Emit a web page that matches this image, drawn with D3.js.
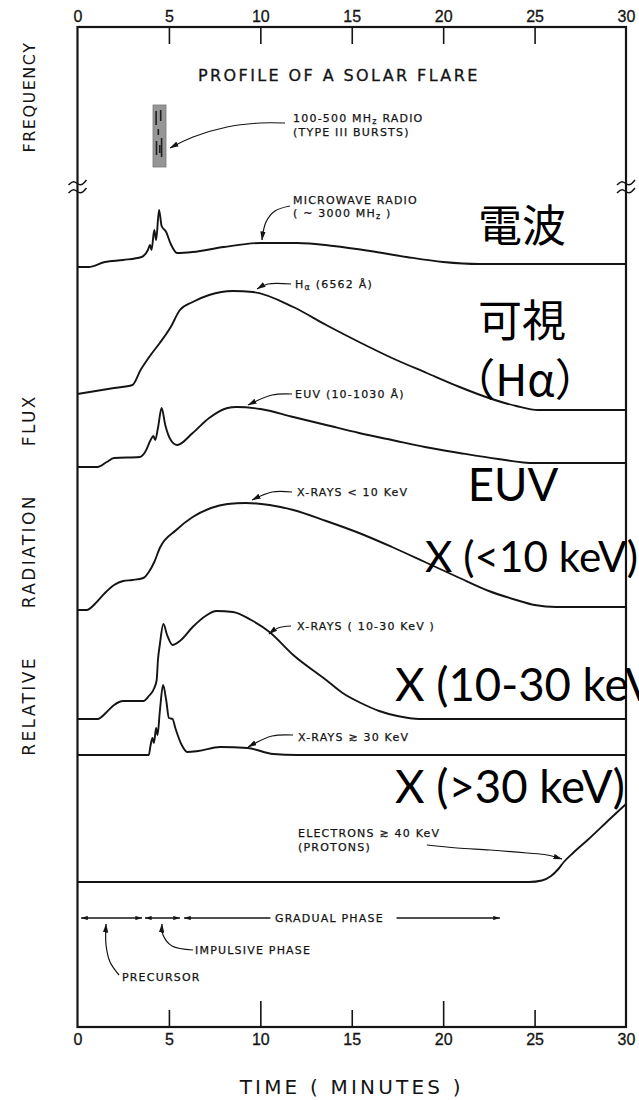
<!DOCTYPE html>
<html>
<head>
<meta charset="utf-8">
<script src="https://cdn.jsdelivr.net/npm/d3@7/dist/d3.min.js"></script>
<style>
  body { margin: 0; background: #fff; }
  svg { display: block; }
</style>
</head>
<body>
<svg id="chart" width="639" height="1100"></svg>
<script>
// ---- data: time in minutes, relative flux in stacked chart units (0 = bottom, 100 = top) ----
const minuteTicks = [0, 5, 10, 15, 20, 25, 30];

const microwaveRadio = [
  [0, 76.0], [0.6, 76.0], [1.5, 76.5], [2.5, 76.7], [3.5, 77.0], [3.85, 77.7], [3.97, 78.2],
  [4.05, 77.7], [4.2, 79.7], [4.3, 78.7], [4.46, 81.7], [4.6, 80.1], [4.85, 79.5], [5.1, 78.3],
  [5.45, 77.4], [6.3, 77.5], [8, 78.0], [10, 78.4], [12, 78.4], [14, 78.1], [16, 77.6],
  [18, 77.0], [20, 76.5], [22, 76.3], [30, 76.3]
];
const hAlpha = [
  [0, 63.3], [1, 63.6], [2, 63.9], [3.0, 64.2], [3.45, 65.7], [4.0, 67.2], [4.5, 68.4],
  [5.1, 70.0], [5.6, 71.7], [6.3, 72.5], [7.2, 73.2], [8.5, 73.6], [9.6, 73.5], [11.8, 72.0],
  [13.6, 70.2], [15.4, 68.5], [17.2, 66.9], [19.1, 65.4], [20.9, 64.0], [22.5, 62.9],
  [24, 62.1], [25.2, 61.7], [30, 61.7]
];
const euv = [
  [0, 56.0], [1.1, 56.0], [1.6, 56.5], [2.0, 56.9], [3.4, 57.0], [3.7, 57.5], [4.0, 58.7],
  [4.15, 59.1], [4.25, 58.7], [4.4, 59.9], [4.6, 61.9], [4.8, 60.2], [5.1, 58.7], [5.45, 58.2],
  [6.3, 59.4], [7.2, 60.9], [8.2, 61.9], [8.7, 62.0], [10, 61.8], [11.8, 61.0], [13.6, 60.2],
  [15.4, 59.4], [17.2, 58.7], [19, 58.0], [20.9, 57.4], [23, 56.8], [25, 56.4], [30, 56.4]
];
const xraySoft = [
  [0, 41.7], [0.5, 41.7], [1.0, 42.4], [1.5, 43.4], [2.0, 44.2], [2.5, 44.6], [3.0, 44.7],
  [3.6, 44.9], [3.9, 45.5], [4.2, 46.5], [4.5, 47.9], [5.4, 49.7], [6.3, 51.0], [7.3, 51.9],
  [8.2, 52.3], [9.2, 52.4], [10.5, 52.2], [11.8, 51.7], [13.6, 50.6], [15.4, 49.4],
  [17.2, 48.0], [19, 46.5], [20.9, 44.9], [22.5, 43.6], [24, 42.7], [25, 42.2], [26.2, 42.0],
  [30, 42.0]
];
const xrayMid = [
  [0, 30.8], [1.1, 30.8], [1.6, 31.5], [2.0, 32.2], [2.5, 32.6], [3.6, 32.6], [3.9, 33.1],
  [4.2, 33.9], [4.33, 34.7], [4.4, 36.7], [4.5, 38.2], [4.7, 40.3], [4.9, 39.2], [5.2, 38.2],
  [5.6, 38.6], [6.3, 40.0], [7.0, 41.1], [7.6, 41.6], [8.5, 41.5], [9.5, 40.7], [10.5, 39.5],
  [11.8, 37.2], [13.6, 34.7], [14.5, 33.4], [15.5, 32.4], [16.5, 31.6], [17.5, 31.1],
  [18.7, 30.8], [30, 30.8]
];
const xrayHard = [
  [0, 27.2], [3.9, 27.2], [4.0, 28.2], [4.1, 28.9], [4.18, 28.4], [4.3, 29.9], [4.38, 29.2],
  [4.5, 31.5], [4.68, 34.2], [4.85, 32.7], [5.0, 30.9], [5.2, 30.8], [5.35, 29.9], [5.7, 28.2],
  [6.0, 27.5], [6.6, 27.6], [7.8, 28.0], [9.3, 27.9], [10.7, 27.3], [12, 27.2], [30, 27.2]
];
const electrons = [
  [0, 14.5], [24.7, 14.5], [25.4, 14.65], [25.9, 15.1], [26.3, 15.8], [26.6, 16.5],
  [27.1, 17.4], [27.9, 18.7], [29, 20.6], [30, 22.3]
];

// type III burst patch in the frequency panel: time span and frequency band
const typeIIIPatch = { start: 4.13, end: 4.84, low: 86.0, high: 92.2 };
const typeIIIStreaks = [
  [4.30, 91.6, 90.2], [4.55, 91.7, 90.6], [4.42, 89.8, 89.2],
  [4.32, 88.6, 87.2], [4.60, 88.9, 87.0], [4.50, 88.2, 87.4]
];
const axisBreak = 84.0;

// flare phases shown under the curves
const phases = [
  { name: "PRECURSOR", start: 0.2, end: 3.53 },
  { name: "IMPULSIVE PHASE", start: 3.69, end: 5.6 },
  { name: "GRADUAL PHASE", start: 5.83, end: 23.1 }
];
const phaseLevel = 10.9;

// ---- scales ----
const svg = d3.select("#chart");
const x = d3.scaleLinear().domain([0, 30]).range([77.5, 626]);
const y = d3.scaleLinear().domain([0, 100]).range([1027, 27]);

const ink = "#141414";
const letterFont = "'DejaVu Sans', sans-serif";

// arrowheads
const defs = svg.append("defs");
defs.append("marker")
  .attr("id", "head").attr("viewBox", "0 0 10 6").attr("refX", 9.5).attr("refY", 3)
  .attr("markerWidth", 9).attr("markerHeight", 5.4).attr("markerUnits", "userSpaceOnUse")
  .attr("orient", "auto-start-reverse")
  .append("path").attr("d", "M0,0 L10,3 L0,6 Z").attr("fill", ink);
defs.append("marker")
  .attr("id", "small").attr("viewBox", "0 0 10 6").attr("refX", 9.5).attr("refY", 3)
  .attr("markerWidth", 7).attr("markerHeight", 4.4).attr("markerUnits", "userSpaceOnUse")
  .attr("orient", "auto-start-reverse")
  .append("path").attr("d", "M0,0 L10,3 L0,6 Z").attr("fill", ink);

// ---- frame and axes ----
svg.append("rect")
  .attr("x", x(0)).attr("y", y(100))
  .attr("width", x(30) - x(0)).attr("height", y(0) - y(100))
  .attr("fill", "none").attr("stroke", ink).attr("stroke-width", 2.2);

const topAxis = svg.append("g").attr("transform", `translate(0,${y(100)})`)
  .call(d3.axisTop(x).tickValues(minuteTicks).tickSizeInner(-17).tickSizeOuter(0).tickPadding(5));
const bottomAxis = svg.append("g").attr("transform", `translate(0,${y(0)})`)
  .call(d3.axisBottom(x).tickValues(minuteTicks).tickSizeInner(-17).tickSizeOuter(0).tickPadding(7));

[topAxis, bottomAxis].forEach(g => {
  g.select(".domain").remove();
  g.selectAll(".tick line").attr("stroke", ink).attr("stroke-width", 1.6)
    .attr("display", d => (d === 0 || d === 30) ? "none" : null);
  g.selectAll(".tick text").attr("fill", ink)
    .attr("stroke", ink).attr("stroke-width", 0.3)
    .style("font-family", "'Liberation Sans', Arial, sans-serif").style("font-size", "16px");
});
// the 10- and 20-minute ticks on the lower axis reach further
bottomAxis.selectAll(".tick line").attr("y2", d => (d === 10 || d === 20) ? -26 : -17);

// axis break marks between the frequency panel and the flux panel
const breakMark = d3.line().curve(d3.curveBasis);
[x(0), x(30)].forEach(cx => {
  [-4, 4].forEach(off => {
    const cy = y(axisBreak) + off;
    svg.append("path")
      .attr("d", breakMark([[cx - 9, cy + 2], [cx - 4, cy - 3], [cx + 1, cy + 2], [cx + 5, cy + 2], [cx + 9, cy - 3]]))
      .attr("fill", "none").attr("stroke", ink).attr("stroke-width", 1.5);
  });
});

// axis titles
svg.append("text")
  .attr("transform", `translate(29,${y(93)}) rotate(-90)`)
  .attr("text-anchor", "middle").attr("dominant-baseline", "central")
  .style("font-family", letterFont).style("font-size", "16px").style("letter-spacing", "1.5px")
  .attr("fill", ink).text("FREQUENCY");
svg.append("text")
  .attr("transform", `translate(29,${y(45.2)}) rotate(-90)`)
  .attr("text-anchor", "middle").attr("dominant-baseline", "central")
  .style("font-family", letterFont).style("font-size", "17px").style("letter-spacing", "2.4px")
  .style("word-spacing", "40px")
  .attr("fill", ink).text("RELATIVE RADIATION FLUX");

svg.append("text")
  .attr("x", (x(0) + x(30)) / 2).attr("y", 1094).attr("text-anchor", "middle")
  .style("font-family", letterFont).style("font-size", "20px").style("letter-spacing", "3.2px")
  .attr("fill", ink).text("TIME ( MINUTES )");

svg.append("text")
  .attr("x", x(6.59)).attr("y", y(94.6))
  .style("font-family", letterFont).style("font-size", "16px").style("letter-spacing", "2.4px")
  .attr("stroke", ink).attr("stroke-width", 0.3)
  .attr("fill", ink).text("PROFILE OF A SOLAR FLARE");

// ---- type III burst patch ----
svg.append("rect")
  .attr("x", x(typeIIIPatch.start)).attr("y", y(typeIIIPatch.high))
  .attr("width", x(typeIIIPatch.end) - x(typeIIIPatch.start))
  .attr("height", y(typeIIIPatch.low) - y(typeIIIPatch.high))
  .attr("fill", "#969696").attr("stroke", "#777").attr("stroke-width", 0.8);
svg.append("g").selectAll("line").data(typeIIIStreaks).join("line")
  .attr("x1", d => x(d[0])).attr("x2", d => x(d[0]))
  .attr("y1", d => y(d[1])).attr("y2", d => y(d[2]))
  .attr("stroke", "#1e1e1e").attr("stroke-width", 1.6);

// ---- flux curves ----
const fluxLine = d3.line().x(d => x(d[0])).y(d => y(d[1])).curve(d3.curveMonotoneX);
const series = [microwaveRadio, hAlpha, euv, xraySoft, xrayMid, xrayHard, electrons];
svg.append("g").selectAll("path").data(series).join("path")
  .attr("d", fluxLine)
  .attr("fill", "none").attr("stroke", ink).attr("stroke-width", 1.9)
  .attr("stroke-linejoin", "round");

// ---- curve labels with leader arrows ----
const leader = d3.line().x(d => x(d[0])).y(d => y(d[1])).curve(d3.curveCatmullRom.alpha(0.5));
const leaders = [
  [[11.35, 90.4], [9.98, 90.4], [8.18, 90.0], [6.32, 89.0], [5.06, 87.9]],
  [[11.62, 82.1], [10.80, 81.6], [10.31, 80.5], [10.09, 78.7]],
  [[11.68, 74.3], [10.42, 74.3], [9.82, 73.8]],
  [[11.73, 63.3], [10.64, 63.2], [9.33, 62.2]],
  [[11.73, 53.5], [10.64, 53.5], [9.55, 52.7]],
  [[11.68, 40.1], [10.97, 39.9], [10.47, 39.3]],
  [[11.79, 29.2], [10.64, 29.1], [9.33, 28.0]],
  [[19.11, 18.2], [20.76, 17.9], [22.56, 17.7], [24.59, 17.4], [25.68, 17.2], [26.50, 16.8]],
  [[2.27, 5.2], [1.78, 6.5], [1.56, 8.2], [1.56, 10.3]],
  [[6.32, 7.7], [5.17, 8.1], [4.68, 9.2], [4.62, 10.3]]
];
svg.append("g").selectAll("path").data(leaders).join("path")
  .attr("d", leader)
  .attr("fill", "none").attr("stroke", ink).attr("stroke-width", 1.2)
  .attr("marker-end", "url(#head)");

// label text pieces: a piece flagged "sub" is set lowered and smaller
const smallLabels = [
  { t: 11.79, v: 90.5, parts: [["100-500 MH"], ["z", "sub"], [" RADIO"]] },
  { t: 11.79, v: 89.1, parts: [["(TYPE III BURSTS)"]] },
  { t: 11.79, v: 82.3, parts: [["MICROWAVE RADIO"]] },
  { t: 11.79, v: 81.0, parts: [["( ~ 3000 MH"], ["z", "sub"], [" )"]] },
  { t: 11.90, v: 73.9, parts: [["H"], ["\u03b1", "sub"], [" (6562 Å)"]] },
  { t: 11.90, v: 62.9, parts: [["EUV (10-1030 Å)"]] },
  { t: 12.01, v: 53.1, parts: [["X-RAYS < 10 KeV"]] },
  { t: 12.01, v: 39.7, parts: [["X-RAYS ( 10-30 KeV )"]] },
  { t: 12.06, v: 28.6, parts: [["X-RAYS \u2273 30 KeV"]] },
  { t: 12.06, v: 19.0, parts: [["ELECTRONS \u2273 40 KeV"]] },
  { t: 12.06, v: 17.6, parts: [["(PROTONS)"]] },
  { t: 10.80, v: 10.5, parts: [["GRADUAL PHASE"]] },
  { t: 6.43, v: 7.3, parts: [["IMPULSIVE PHASE"]] },
  { t: 2.43, v: 4.6, parts: [["PRECURSOR"]] }
];

// ---- phase arrows ----
svg.append("g").selectAll("line").data(phases).join("line")
  .attr("x1", d => x(d.start)).attr("x2", d => x(d.end))
  .attr("y1", y(phaseLevel)).attr("y2", y(phaseLevel))
  .attr("stroke", ink).attr("stroke-width", 1.3)
  .attr("marker-start", "url(#small)").attr("marker-end", "url(#small)");
// gap in the gradual-phase arrow where its name is written
svg.append("rect")
  .attr("x", x(10.55)).attr("y", y(phaseLevel) - 4)
  .attr("width", x(17.45) - x(10.55)).attr("height", 8).attr("fill", "#fff");

const smallText = svg.append("g")
  .style("font-family", letterFont).style("font-size", "11px").style("letter-spacing", "1.2px")
  .attr("fill", ink).attr("stroke", ink).attr("stroke-width", 0.25);
smallLabels.forEach(l => {
  const t = smallText.append("text").attr("x", x(l.t)).attr("y", y(l.v));
  let lowered = false;
  l.parts.forEach(([s, kind]) => {
    const span = t.append("tspan").text(s);
    if (kind === "sub") {
      span.attr("dy", 2).style("font-size", "8px");
      lowered = true;
    } else if (lowered) {
      span.attr("dy", -2);
      lowered = false;
    }
  });
});

// ---- large overlay labels ----
const bigLabels = [
  { text: "電波", t: 24.31, v: 80.4, anchor: "middle", cjk: true },
  { text: "可視", t: 24.31, v: 70.9, anchor: "middle", cjk: true },
  { text: "（Hα）", t: 24.48, v: 65.0, anchor: "middle", cjk: true },
  { text: "EUV", t: 23.82, v: 54.4, anchor: "middle", cjk: false },
  { text: "X (<10 keV)", t: 19.01, v: 47.2, anchor: "start", cjk: false, width: 213 },
  { text: "X (10-30 keV)", t: 17.37, v: 34.4, anchor: "start", cjk: false },
  { text: "X (>30 keV)", t: 17.37, v: 24.2, anchor: "start", cjk: false }
];
const big = svg.append("g").selectAll("text").data(bigLabels).join("text")
  .attr("x", d => x(d.t)).attr("y", d => y(d.v))
  .attr("text-anchor", d => d.anchor).attr("dominant-baseline", "central")
  .style("font-family", d => d.cjk ? "'Noto Sans CJK JP', sans-serif" : "Lato, 'Open Sans', sans-serif")
  .style("font-size", d => d.cjk ? "44px" : "40px")
  .attr("fill", "#000")
  .text(d => d.text);

// size the latin labels so the hard x-ray label spans about 230 px
const probe = big.filter(d => d.text === "X (>30 keV)").node();
const fitted = 40 * 230 / probe.getComputedTextLength();
big.filter(d => !d.cjk).style("font-size", fitted + "px");
// a label with its own width target is scaled to that width
big.filter(d => d.width).each(function (d) {
  const w = this.getComputedTextLength();
  d3.select(this).style("font-size", (fitted * d.width / w) + "px");
});
</script>
</body>
</html>
